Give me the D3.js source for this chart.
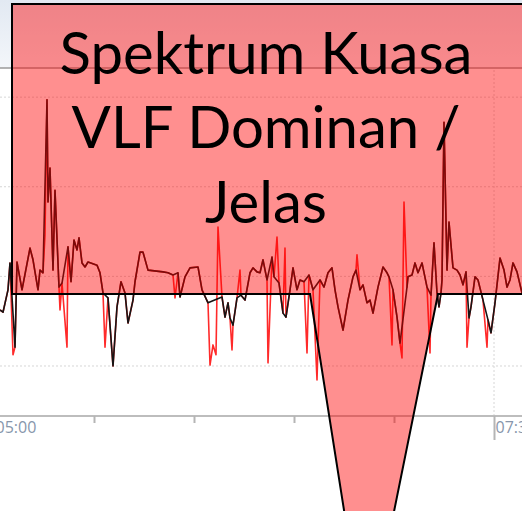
<!DOCTYPE html>
<html>
<head>
<meta charset="utf-8">
<script src="https://cdn.jsdelivr.net/npm/d3@7"></script>
<style>
html, body { margin: 0; padding: 0; background: #fff; overflow: hidden; }
svg { display: block; }
</style>
</head>
<body>
<svg id="chart" width="522" height="511"></svg>
<script>
// corrected series (black): minutes after 05:00 and value
var cleanMin = [1.8, 2.7, 4.2, 4.8, 6.3, 6.9, 8.4, 10.8, 11.7, 13.2, 13.8, 14.7, 15.9, 16.2, 16.8, 17.7, 18.3, 19.5, 20.4,
	22.2, 23.1, 24.0, 24.9, 25.5, 26.4, 27.3, 28.2, 30.9, 31.8, 32.7, 34.2, 35.7, 36.9, 38.1, 39.3, 40.2, 41.7, 42.3,
	43.8, 44.7, 46.2, 50.7, 52.2, 53.7, 55.2, 55.8, 57.3, 58.8, 61.2, 62.4, 64.2, 68.4, 69.3, 70.2, 70.8, 71.7, 72.9,
	74.1, 75.3, 76.8, 77.7, 78.9, 79.8, 80.7, 81.9, 83.4, 84.0, 85.5, 86.7, 87.6, 88.8, 89.7, 90.9, 91.8, 93.0, 94.5,
	95.7, 97.8, 99.0, 100.2, 101.4, 102.3, 103.2, 104.7, 106.2, 107.7, 108.6, 109.8, 110.7, 111.9, 112.8, 113.7, 115.2,
	116.7, 117.9, 118.5, 119.7, 120.9, 121.8, 123.9, 124.2, 125.4, 126.3, 127.2, 128.4, 129.9, 131.1, 132.0, 132.9,
	133.5, 134.1, 134.4, 135.0, 135.9, 136.5, 137.7, 138.9, 139.8, 140.7, 141.6, 142.5, 143.1, 144.3, 145.2, 146.7,
	148.2, 149.1, 150.3, 151.8, 153.0, 153.9, 154.8, 155.7, 156.9, 158.4];
var cleanVal = [32.5, 32.0, 37.0, 43.0, 24.2, 43.2, 37.0, 46.3, 43.7, 37.0, 41.4, 40.8, 79.4, 56.6, 64.2, 41.4, 59.2, 37.6, 38.5,
	46.6, 38.8, 48.1, 45.9, 48.6, 43.0, 42.1, 43.2, 42.5, 40.8, 36.3, 35.2, 20.0, 33.2, 38.8, 36.3, 29.6, 34.7, 38.8,
	45.4, 45.4, 41.4, 41.0, 40.8, 40.3, 40.8, 35.4, 39.9, 41.9, 42.1, 37.0, 34.1, 35.4, 30.9, 34.1, 30.7, 29.1, 35.2,
	35.8, 34.7, 40.8, 41.9, 41.0, 40.8, 43.7, 39.2, 44.3, 39.9, 38.5, 31.8, 30.9, 37.0, 41.9, 37.0, 39.2, 38.8, 40.3,
	37.0, 39.2, 37.6, 40.8, 41.9, 37.0, 33.2, 28.0, 34.7, 39.9, 41.4, 37.0, 38.1, 34.1, 34.7, 31.8, 37.6,
	42.1, 40.8, 39.9, 37.0, 30.9, 25.1, 37.6, 39.9, 40.3, 43.0, 40.8, 43.0, 37.6, 35.8, 47.5, 36.3,
	33.2, 36.3, 39.2, 74.4, 41.4, 52.1, 41.9, 41.4, 40.3, 38.1, 41.0, 30.7, 33.2, 39.9, 39.2, 34.7,
	30.3, 27.4, 34.1, 44.1, 41.4, 37.6, 39.2, 43.0, 41.0, 36.3];

// artifact beats that only the raw series (red) passes through
var rawMin = [5.7, 15.3, 19.8, 21.9, 33.3, 54.3, 64.8, 65.7, 66.6, 67.2, 71.4, 73.8, 82.2, 84.9, 87.3, 93.9, 96.9,
	108.9, 119.4, 122.4, 123.0, 130.8, 141.9, 147.9];
var rawVal = [22.5, 49.2, 32.5, 24.2, 24.2, 35.2, 20.2, 24.7, 22.5, 51.0, 23.6, 41.4, 20.7, 48.8, 46.3, 22.9, 16.9,
	44.8, 24.7, 21.8, 56.6, 22.9, 24.2, 24.2];

var gridValues = [20, 40, 60, 80];
var labelTimes = ['05:00', '07:30'];
var calloutLines = ['Spektrum Kuasa', 'VLF Dominan /', 'Jelas'];

var W = 522, H = 511;
var svg = d3.select('#chart');

var parseHM = d3.timeParse('%H:%M');
var fmtHM = d3.timeFormat('%H:%M');
var t0 = parseHM('05:00');
function atMin(m){ return d3.timeSecond.offset(t0, Math.round(m * 60)); }

var x = d3.scaleTime().domain([atMin(1.8), atMin(158.4)]).range([0, W]);
var y = d3.scaleLinear().domain([8.84, 86.5]).range([416, 68]);

var clean = cleanMin.map(function(m, i){ return {t: atMin(m), v: cleanVal[i]}; });
var raw = clean.concat(rawMin.map(function(m, i){ return {t: atMin(m), v: rawVal[i]}; }))
	.sort(function(a, b){ return a.t - b.t; });

/* --------- HEADER BAND ---------*/
var defs = svg.append('defs');
var grad = defs.append('linearGradient').attr('id', 'hdr').attr('x1', 0).attr('y1', 0).attr('x2', 0).attr('y2', 1);
grad.append('stop').attr('offset', '0%').attr('stop-color', '#e2e9f2');
grad.append('stop').attr('offset', '100%').attr('stop-color', '#f3f6fa');

svg.append('rect').attr('x', 0).attr('y', 0).attr('width', W).attr('height', y.range()[1])
	.attr('fill', 'url(#hdr)');
svg.append('line').attr('x1', 0).attr('x2', W).attr('y1', y.range()[1]).attr('y2', y.range()[1])
	.attr('stroke', '#9a9a9a').attr('stroke-width', 1.5);

/* --------- GRID ---------*/
svg.append('g').selectAll('line').data(gridValues).enter().append('line')
	.attr('x1', 0).attr('x2', W)
	.attr('y1', function(d){ return y(d); }).attr('y2', function(d){ return y(d); })
	.attr('stroke', '#d6d6d6').attr('stroke-dasharray', '2,2');

var labelled = labelTimes.map(function(s){ return +parseHM(s); });
svg.append('g').selectAll('line').data(labelled).enter().append('line')
	.attr('x1', function(d){ return x(d); }).attr('x2', function(d){ return x(d); })
	.attr('y1', y.range()[1] + 2).attr('y2', y.range()[0])
	.attr('stroke', '#d6d6d6').attr('stroke-dasharray', '2,2');

/* --------- AXIS ---------*/
var tickTimes = d3.timeMinute.every(30).range(t0, atMin(151));
var axis = d3.axisBottom(x).tickValues(tickTimes).tickSizeOuter(0).tickSize(7)
	.tickFormat(function(d){ return labelled.indexOf(+d) >= 0 ? fmtHM(d) : ''; });

var ax = svg.append('g').attr('transform', 'translate(0,' + y.range()[0] + ')').call(axis);
ax.select('.domain').attr('stroke', '#bdbdbd').attr('stroke-width', 2).attr('d', 'M-10,0H' + (W + 10));
ax.selectAll('.tick line').attr('stroke', '#b5b5b5').attr('stroke-width', 2)
	.attr('y2', function(d){ return labelled.indexOf(+d) >= 0 ? 24 : 7; });
ax.selectAll('.tick text')
	.attr('text-anchor', 'start').attr('x', 1).attr('y', 17).attr('dy', 0)
	.attr('fill', '#8796ab').style('font-family', '"Open Sans", sans-serif').style('font-size', '16px');

/* --------- LINES ---------*/
var line = d3.line().x(function(d){ return x(d.t); }).y(function(d){ return y(d.v); });

svg.append('path').datum(raw).attr('d', line)
	.attr('fill', 'none').attr('stroke', '#ff2a2a').attr('stroke-width', 1.6).attr('stroke-linejoin', 'round');
svg.append('path').datum(clean).attr('d', line)
	.attr('fill', 'none').attr('stroke', '#151515').attr('stroke-width', 1.6).attr('stroke-linejoin', 'round');

/* --------- CALLOUT ---------*/
var callout = [[12, 4], [W + 10, 4], [W + 10, 294], [438, 294], [366, 650], [310, 294], [12, 294]];
svg.append('path')
	.attr('d', 'M' + callout.join('L') + 'Z')
	.attr('fill', '#ff0000').attr('fill-opacity', 0.44)
	.attr('stroke', '#000').attr('stroke-width', 2);

var txt = svg.append('g').attr('font-family', 'Lato, "Open Sans", sans-serif').attr('font-size', 60);
var tl = txt.selectAll('text').data(calloutLines).enter().append('text')
	.attr('x', 266).attr('y', function(d, i){ return 73.5 + i * 74.7; })
	.attr('text-anchor', 'middle').attr('fill', '#000')
	.text(function(d){ return d; });
var w0 = tl.node().getComputedTextLength();
txt.attr('font-size', 60 * 413 / w0);
</script>
</body>
</html>
